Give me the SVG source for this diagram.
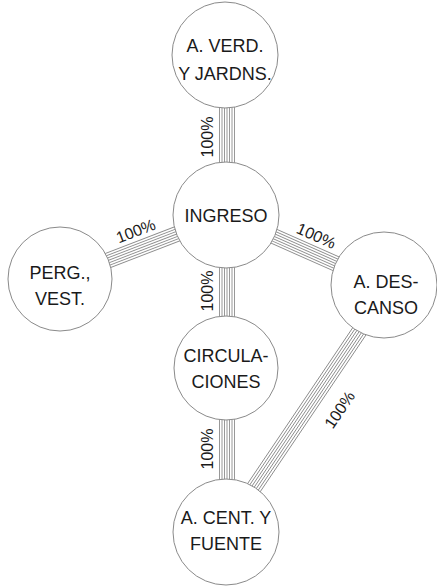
<svg xmlns="http://www.w3.org/2000/svg" width="437" height="588" viewBox="0 0 437 588">
<style>
.node circle{fill:#fff;stroke:#8a8a8a;stroke-width:1}
.node text{font-family:"Liberation Sans",Arial,sans-serif;font-size:18px;fill:#1a1a1a;text-anchor:middle}
.band line{stroke:#8c8c8c;stroke-width:0.9}
.lbl{font-family:"Liberation Sans",Arial,sans-serif;font-size:16px;fill:#1a1a1a;text-anchor:middle}
</style>
<rect width="437" height="588" fill="#fff"/>
<g id="connectors">
 <g class="band" id="e-verd-ingreso">
  <line x1="219.5" y1="55" x2="219.5" y2="215"/><line x1="222" y1="55" x2="222" y2="215"/><line x1="224.5" y1="55" x2="224.5" y2="215"/><line x1="227" y1="55" x2="227" y2="215"/><line x1="229.5" y1="55" x2="229.5" y2="215"/><line x1="232" y1="55" x2="232" y2="215"/><line x1="234.5" y1="55" x2="234.5" y2="215"/>
 </g>
 <text class="lbl" transform="translate(213,137) rotate(-90)">100%</text>
 <g class="band" id="e-ingreso-circ">
  <line x1="219.5" y1="215" x2="219.5" y2="368"/><line x1="222" y1="215" x2="222" y2="368"/><line x1="224.5" y1="215" x2="224.5" y2="368"/><line x1="227" y1="215" x2="227" y2="368"/><line x1="229.5" y1="215" x2="229.5" y2="368"/><line x1="232" y1="215" x2="232" y2="368"/><line x1="234.5" y1="215" x2="234.5" y2="368"/>
 </g>
 <text class="lbl" transform="translate(213,291) rotate(-90)">100%</text>
 <g class="band" id="e-circ-cent">
  <line x1="219.5" y1="368" x2="219.5" y2="532"/><line x1="222" y1="368" x2="222" y2="532"/><line x1="224.5" y1="368" x2="224.5" y2="532"/><line x1="227" y1="368" x2="227" y2="532"/><line x1="229.5" y1="368" x2="229.5" y2="532"/><line x1="232" y1="368" x2="232" y2="532"/><line x1="234.5" y1="368" x2="234.5" y2="532"/>
 </g>
 <text class="lbl" transform="translate(213,449) rotate(-90)">100%</text>
 <g class="band" id="e-perg-ingreso" transform="translate(60,279) rotate(-21.08)">
  <line x1="0" y1="-7.5" x2="178" y2="-7.5"/><line x1="0" y1="-5" x2="178" y2="-5"/><line x1="0" y1="-2.5" x2="178" y2="-2.5"/><line x1="0" y1="0" x2="178" y2="0"/><line x1="0" y1="2.5" x2="178" y2="2.5"/><line x1="0" y1="5" x2="178" y2="5"/><line x1="0" y1="7.5" x2="178" y2="7.5"/>
  <text class="lbl" x="88" y="-12">100%</text>
 </g>
 <g class="band" id="e-ingreso-descanso" transform="translate(226,215) rotate(23.9)">
  <line x1="0" y1="-7.5" x2="173" y2="-7.5"/><line x1="0" y1="-5" x2="173" y2="-5"/><line x1="0" y1="-2.5" x2="173" y2="-2.5"/><line x1="0" y1="0" x2="173" y2="0"/><line x1="0" y1="2.5" x2="173" y2="2.5"/><line x1="0" y1="5" x2="173" y2="5"/><line x1="0" y1="7.5" x2="173" y2="7.5"/>
  <text class="lbl" x="91" y="-12">100%</text>
 </g>
 <g class="band" id="e-cent-descanso" transform="translate(224,532) rotate(-56)">
  <line x1="0" y1="-7.5" x2="300" y2="-7.5"/><line x1="0" y1="-5" x2="300" y2="-5"/><line x1="0" y1="-2.5" x2="300" y2="-2.5"/><line x1="0" y1="0" x2="300" y2="0"/><line x1="0" y1="2.5" x2="300" y2="2.5"/><line x1="0" y1="5" x2="300" y2="5"/><line x1="0" y1="7.5" x2="300" y2="7.5"/>
  <text class="lbl" x="166" y="33">100%</text>
 </g>
</g>
<g id="n-verd" class="node"><circle cx="225" cy="55" r="53"/><text x="225" y="52">A. VERD.</text><text x="225" y="80">Y JARDNS.</text></g>
<g id="n-ingreso" class="node"><circle cx="226" cy="215" r="53"/><text x="226" y="222">INGRESO</text></g>
<g id="n-perg" class="node"><circle cx="60" cy="279" r="52"/><text x="60" y="279">PERG.,</text><text x="60" y="305">VEST.</text></g>
<g id="n-descanso" class="node"><circle cx="384" cy="285" r="53"/><text x="386" y="288">A. DES-</text><text x="386" y="314">CANSO</text></g>
<g id="n-circ" class="node"><circle cx="226" cy="368" r="52"/><text x="226" y="362">CIRCULA-</text><text x="226" y="388">CIONES</text></g>
<g id="n-cent" class="node"><circle cx="226" cy="532" r="53"/><text x="226" y="524">A. CENT. Y</text><text x="226" y="550">FUENTE</text></g>
</svg>
